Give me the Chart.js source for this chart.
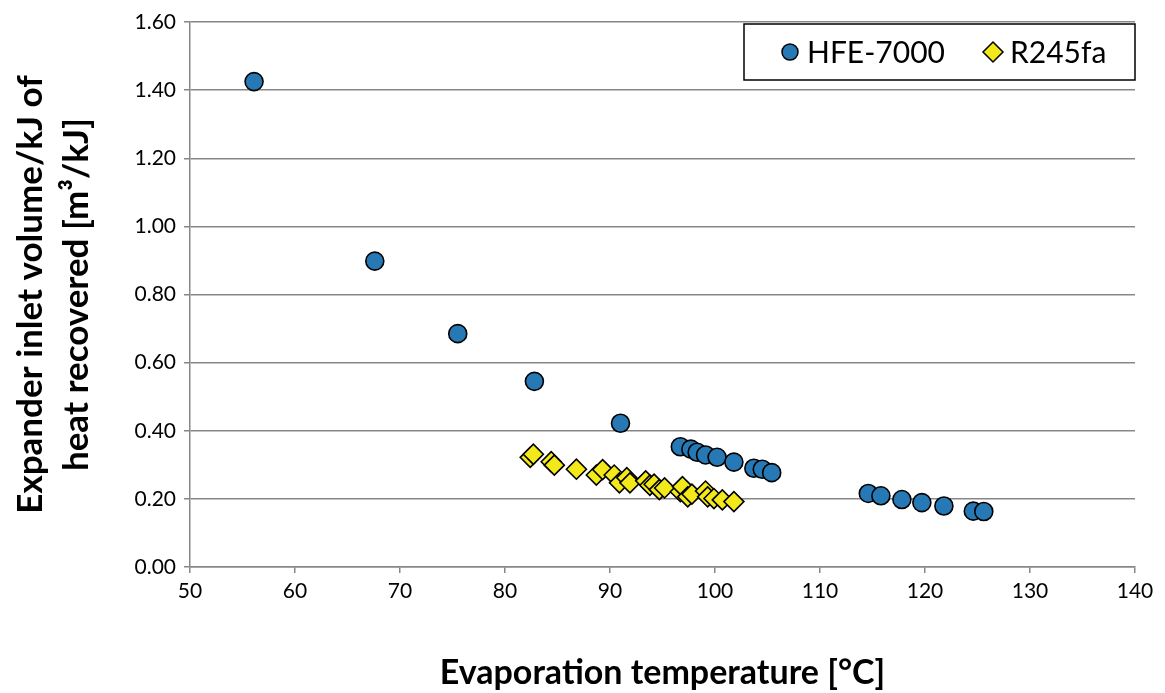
<!DOCTYPE html>
<html>
<head>
<meta charset="utf-8">
<script src="https://cdn.jsdelivr.net/npm/chart.js@4.4.1/dist/chart.umd.min.js"></script>
<style>
  html, body { margin: 0; padding: 0; background: #fff; }
</style>
</head>
<body>
<canvas id="chart" width="1165" height="693"></canvas>
<script>
// evaporation temperature [°C] and volume per kJ recovered [m3/kJ]
var hfeX = [56.1, 67.6, 75.5, 82.8, 91.0, 96.7, 97.7, 98.3, 99.1, 100.2, 101.8, 103.7, 104.5, 105.4,
            114.6, 115.8, 117.8, 119.7, 121.8, 124.6, 125.6];
var hfeY = [1.425, 0.898, 0.685, 0.545, 0.422, 0.353, 0.346, 0.337, 0.329, 0.322, 0.308, 0.290, 0.287, 0.277,
            0.216, 0.209, 0.198, 0.189, 0.179, 0.164, 0.163];

var r245X = [82.4, 82.7, 84.4, 84.7, 86.8, 88.7, 89.3, 90.4, 90.9, 91.6, 91.9, 93.4, 93.8, 94.2, 94.7, 95.2,
             96.7, 96.9, 97.4, 97.8, 99.1, 99.3, 99.9, 100.7, 101.8];
var r245Y = [0.322, 0.331, 0.309, 0.299, 0.287, 0.270, 0.286, 0.270, 0.247, 0.262, 0.247, 0.253, 0.240, 0.243, 0.227, 0.232,
             0.221, 0.236, 0.206, 0.214, 0.223, 0.206, 0.201, 0.197, 0.192];

var xTicks = [50, 60, 70, 80, 90, 100, 110, 120, 130, 140];
var yTicks = [0, 0.2, 0.4, 0.6, 0.8, 1.0, 1.2, 1.4, 1.6];

function pts(xs, ys) {
    return xs.map(function (x, i) { return { x: x, y: ys[i] }; });
}

var fontFam = "Lato, 'Liberation Sans', sans-serif";

// legend drawn as a boxed key in the top right of the plot
var boxLegend = {
    id: 'boxLegend',
    afterDraw: function (chart) {
        var c = chart.ctx;
        var a = chart.chartArea;
        var x0 = 744, y0 = 24, x1 = a.right, y1 = 80;
        c.save();
        c.fillStyle = '#fff';
        c.fillRect(x0, y0, x1 - x0, y1 - y0);
        c.strokeStyle = '#000';
        c.lineWidth = 1.5;
        c.strokeRect(x0, y0, x1 - x0, y1 - y0);
        c.font = '30px ' + fontFam;
        c.textBaseline = 'middle';
        c.fillStyle = '#000';
        var cy = 52;
        var ds = chart.data.datasets;
        // circle
        c.beginPath();
        c.arc(790, cy, 8, 0, Math.PI * 2);
        c.fillStyle = ds[0].backgroundColor;
        c.fill();
        c.lineWidth = 1.5;
        c.stroke();
        c.fillStyle = '#000';
        c.fillText(ds[0].label, 807, cy + 1);
        // diamond
        c.beginPath();
        c.moveTo(993, cy - 10);
        c.lineTo(1003, cy);
        c.lineTo(993, cy + 10);
        c.lineTo(983, cy);
        c.closePath();
        c.fillStyle = ds[1].backgroundColor;
        c.fill();
        c.stroke();
        c.fillStyle = '#000';
        c.fillText(ds[1].label, 1010, cy + 1);
        c.restore();
    }
};

new Chart(document.getElementById('chart'), {
    type: 'scatter',
    data: {
        datasets: [{
            label: 'HFE-7000',
            data: pts(hfeX, hfeY),
            backgroundColor: '#2779b5',
            borderColor: '#000',
            borderWidth: 1.6,
            pointRadius: 9,
            pointStyle: 'circle'
        }, {
            label: 'R245fa',
            data: pts(r245X, r245Y),
            backgroundColor: '#f2e81a',
            borderColor: '#000',
            borderWidth: 1.6,
            pointRadius: 10,
            pointStyle: 'rectRot'
        }]
    },
    options: {
        responsive: false,
        animation: false,
        layout: { padding: { top: 22, right: 30, left: 0, bottom: 0 } },
        plugins: {
            legend: { display: false },
            tooltip: { enabled: false }
        },
        scales: {
            x: {
                type: 'linear',
                min: 50,
                max: 140,
                afterBuildTicks: function (s) { s.ticks = xTicks.map(function (v) { return { value: v }; }); },
                afterFit: function (s) { s.height = 126; },
                border: { color: '#878787', width: 1.5 },
                grid: { drawOnChartArea: false, color: '#878787', tickLength: 6, lineWidth: 1.5 },
                ticks: { color: '#000', font: { family: fontFam, size: 21 }, padding: 6 },
                title: {
                    display: true,
                    text: 'Evaporation temperature [°C]',
                    color: '#000',
                    font: { family: fontFam, size: 34, weight: 'bold' },
                    padding: { top: 22, bottom: 0 }
                }
            },
            y: {
                min: 0,
                max: 1.6,
                afterBuildTicks: function (s) { s.ticks = yTicks.map(function (v) { return { value: v }; }); },
                afterFit: function (s) { s.width = 190; },
                border: { color: '#878787', width: 1.5 },
                grid: { color: '#878787', tickLength: 6, lineWidth: 1.5 },
                ticks: {
                    color: '#000',
                    font: { family: fontFam, size: 21 },
                    padding: 8,
                    callback: function (v) { return v.toFixed(2); }
                },
                title: {
                    display: true,
                    text: ['Expander inlet volume/kJ of', 'heat recovered [m³/kJ]'],
                    color: '#000',
                    font: { family: fontFam, size: 35, weight: 'bold', lineHeight: 1.3 },
                    padding: { top: 8, bottom: 0 }
                }
            }
        }
    },
    plugins: [boxLegend]
});
</script>
</body>
</html>
